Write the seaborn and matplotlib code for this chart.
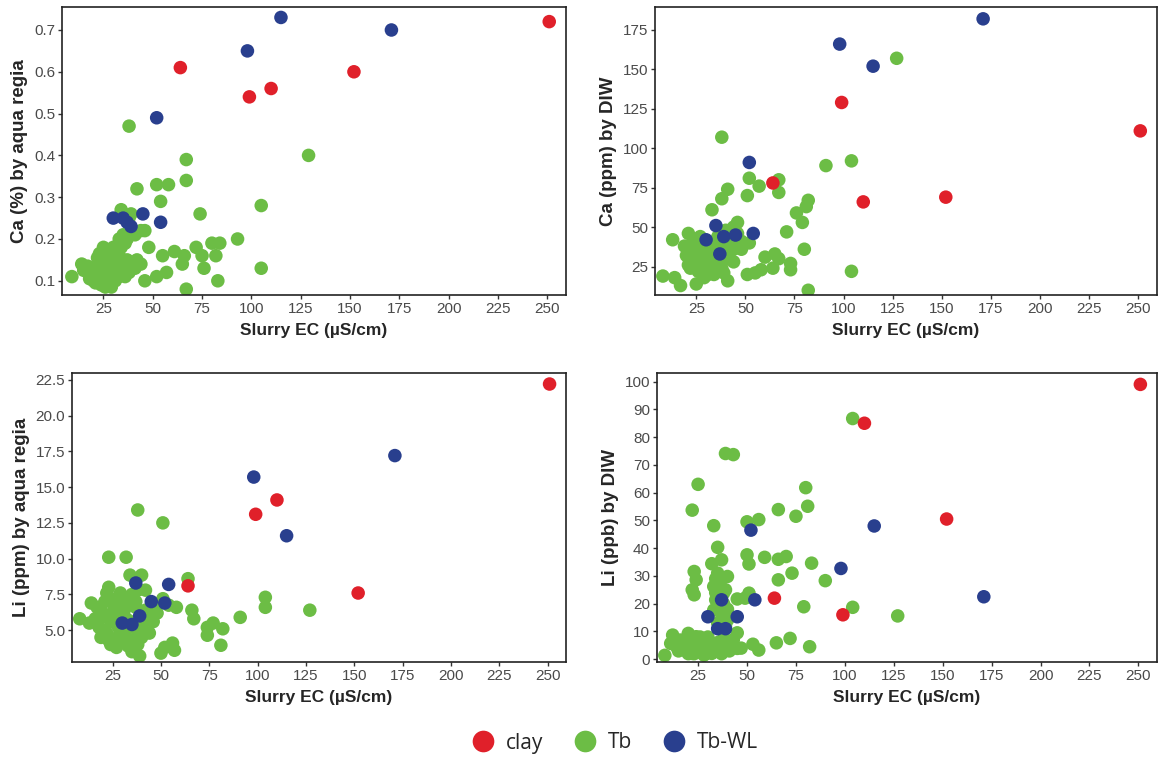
import matplotlib
matplotlib.use("Agg")
import matplotlib.pyplot as plt
import numpy as np
import pandas as pd
import seaborn as sns

# sample groups
groups = ["clay", "Tb", "Tb-WL"]
colors = {"clay": "#e0202a", "Tb": "#6cbd45", "Tb-WL": "#293f8e"}

# slurry EC of clay and Tb-WL samples (same for all panels)
clay_ec = [64, 99, 110, 152, 251]
tbwl_ec = [30, 35, 37, 39, 45, 52, 54, 98, 115, 171]

# clay values
clay_ca_ar = [0.61, 0.54, 0.56, 0.60, 0.72]
clay_ca_diw = [78, 129, 66, 69, 111]
clay_li_ar = [8.1, 13.1, 14.1, 7.6, 22.2]
clay_li_diw = [22, 16, 85, 50.5, 99]

# Tb-WL values
tbwl_ca_ar = [0.25, 0.25, 0.24, 0.23, 0.26, 0.49, 0.24, 0.65, 0.73, 0.70]
tbwl_ca_diw = [42, 51, 33, 44, 45, 91, 46, 166, 152, 182]
tbwl_li_ar = [5.5, 5.4, 8.3, 6.0, 7.0, 6.9, 8.2, 15.7, 11.6, 17.2]
tbwl_li_diw = [15.3, 11, 21.4, 11, 15.3, 46.5, 21.4, 32.7, 48, 22.5]

# Tb samples, read separately for each panel
tb_ca_ar_ec = [38, 67, 67, 52, 58, 54, 42, 129, 105, 105, 74, 93, 80, 84, 82, 76,
               83, 67, 72, 75, 66, 65, 61, 57, 52, 46, 55, 48, 46, 40, 37, 35,
               34, 39, 34, 33, 44, 41, 9, 14, 17, 19, 23, 25, 27, 25, 29, 21,
               31, 33, 36, 38, 25, 24, 28, 18,
               20, 22, 24, 26, 27, 28, 30, 31, 22, 25, 26, 29, 32, 35, 37, 36,
               40, 42, 30, 33, 36, 41, 44, 38, 15, 18, 23, 27]
tb_ca_ar = [0.47, 0.39, 0.34, 0.33, 0.33, 0.29, 0.32, 0.40, 0.28, 0.13, 0.26, 0.20,
            0.19, 0.19, 0.16, 0.13, 0.10, 0.08, 0.18, 0.16, 0.16, 0.14, 0.17, 0.12,
            0.11, 0.10, 0.16, 0.18, 0.22, 0.22, 0.20, 0.21, 0.27, 0.26, 0.18, 0.16,
            0.14, 0.13, 0.11, 0.14, 0.135, 0.11, 0.165, 0.15, 0.125, 0.10, 0.085,
            0.095, 0.135, 0.11, 0.14, 0.12, 0.18, 0.12, 0.105, 0.12,
            0.10, 0.13, 0.09, 0.11, 0.14, 0.16, 0.12, 0.10, 0.155, 0.17, 0.085,
            0.095, 0.15, 0.13, 0.15, 0.11, 0.14, 0.15, 0.18, 0.20, 0.19, 0.21,
            0.22, 0.25, 0.125, 0.105, 0.12, 0.105]

tb_ca_diw_ec = [38, 91, 104, 127, 104, 82, 52, 57, 67, 67, 51, 41, 38, 33, 71, 76,
                82, 81, 79, 80, 46, 60, 65, 67, 64, 73, 73, 51, 55, 58, 44, 41,
                8, 14, 17, 13, 21, 19, 23, 24, 27, 30, 33, 37, 35, 25, 22, 31,
                34, 38, 42, 46, 48, 52, 28, 34, 21, 25,
                22, 24, 26, 28, 30, 32, 34, 36, 38, 40, 42, 44, 26, 29, 31, 24,
                36, 40, 44, 46, 48, 30, 27, 33, 39, 20, 22]
tb_ca_diw = [107, 89, 92, 157, 22, 10, 81, 76, 80, 72, 70, 74, 68, 61, 47, 59,
             67, 63, 53, 36, 53, 31, 33, 30, 24, 27, 23, 20, 21, 23, 28, 16,
             19, 18, 13, 42, 46, 38, 33, 27, 29, 25, 21, 25, 27, 14, 31, 33,
             38, 39, 40, 38, 41, 40, 22, 20, 26, 30,
             38, 42, 36, 30, 24, 30, 34, 28, 24, 30, 34, 36, 22, 18, 20, 26,
             44, 48, 50, 46, 36, 37, 44, 26, 21, 32, 24]

tb_li_ar_ec = [38, 51, 23, 32, 127, 104, 104, 91, 64, 66, 67, 74, 77, 82, 74, 81,
               52, 56, 50, 57, 39, 35, 14, 8, 23, 22, 34, 40, 38, 42, 51, 58,
               54, 48, 44, 13, 19, 21, 25, 27, 29, 31, 33, 23, 27, 19, 25, 30,
               37, 38, 40, 35, 42, 17, 23, 29,
               18, 20, 22, 24, 25, 26, 28, 30, 31, 32, 34, 36, 38, 40, 42, 44,
               46, 48, 35, 37, 24, 28, 21, 33, 16, 27]
tb_li_ar = [13.4, 12.5, 10.1, 10.1, 6.4, 7.3, 6.6, 5.9, 8.6, 6.4, 5.8, 5.2, 5.5,
            5.1, 4.65, 3.95, 3.8, 4.1, 3.4, 3.6, 3.2, 3.5, 6.9, 5.8, 8.0, 7.6,
            8.85, 8.85, 7.8, 7.8, 7.2, 6.6, 6.75, 6.2, 5.7, 5.5, 5.9, 5.0, 6.2,
            5.5, 4.8, 6.4, 5.7, 4.3, 3.8, 4.5, 6.9, 7.1, 6.6, 5.0, 4.5, 4.3, 5.9,
            6.6, 7.3, 7.6,
            5.2, 6.2, 4.8, 5.6, 4.4, 6.6, 5.2, 4.6, 6.0, 5.0, 6.8, 5.4, 4.0, 5.2,
            6.4, 4.8, 5.6, 6.8, 7.5, 7.0, 4.0, 6.8, 7.0, 3.9, 5.8, 4.2]

tb_li_diw_ec = [104, 127, 104, 79, 90, 83, 73, 66, 66, 70, 59, 50, 51, 80, 81, 75,
                66, 56, 50, 39, 43, 25, 22, 33, 35, 37, 32, 40, 23, 24, 22, 23,
                45, 45, 49, 51, 72, 65, 82, 53, 56, 8, 39, 36, 33, 34, 38, 33,
                37, 40, 38, 35, 12, 20, 14, 18, 23, 26, 30, 34, 38, 42, 45, 22,
                28, 16, 32, 40, 24, 11,
                34, 36, 38, 35, 37, 39, 34, 36, 38, 40, 35,
                15, 17, 19, 21, 23, 25, 27, 29, 31, 33, 35, 37, 39, 41, 43, 47,
                26, 30, 20, 24]
tb_li_diw = [86.7, 15.6, 18.7, 18.9, 28.3, 34.6, 31, 28.6, 36, 37, 36.7, 37.6,
             34.3, 61.8, 55.1, 51.5, 53.9, 50.3, 49.5, 74.1, 73.7, 63, 53.7, 48.1,
             40.3, 35.8, 34.4, 29.8, 31.6, 28.6, 25, 23.2, 21.7, 9.5, 22, 23.8,
             7.5, 5.9, 4.5, 5.4, 3.3, 1.4, 25, 27.4, 26.2, 21.4, 19, 17.7, 16.5,
             14.1, 23.8, 31, 8.7, 9.3, 4.5, 3.3, 5.7, 3.3, 6.3, 4.5, 7.5, 5.7,
             3.9, 2.1, 1.5, 6.9, 2.1, 3.3, 8.1, 5.7,
             24, 22, 20, 18, 14, 12, 29, 27, 16, 18, 13,
             3, 5, 7, 4, 2, 6, 4, 2, 5, 3, 6, 2, 5, 3, 7, 4,
             8, 8, 2, 3.5]

# panel labels and ticks
panel_ylabels = ["Ca (%) by aqua regia", "Ca (ppm) by DIW",
                 "Li (ppm) by aqua regia", "Li (ppb) by DIW"]
x_ticks = [25, 50, 75, 100, 125, 150, 175, 200, 225, 250]
y_ticks = [
    [0.1, 0.2, 0.3, 0.4, 0.5, 0.6, 0.7],
    [25, 50, 75, 100, 125, 150, 175],
    [5.0, 7.5, 10.0, 12.5, 15.0, 17.5, 20.0, 22.5],
    [0, 10, 20, 30, 40, 50, 60, 70, 80, 90, 100],
]
y_limits = [(0.066, 0.755), (7, 189.5), (2.78, 22.97), (-1, 103.1)]
x_limits = (4, 259.5)


def make_frame(tb_ec, tb_y, tbwl_y, clay_y):
    # Tb first so that Tb-WL and clay are drawn on top
    df = pd.concat([
        pd.DataFrame({"ec": tb_ec, "val": tb_y, "group": "Tb"}),
        pd.DataFrame({"ec": tbwl_ec, "val": tbwl_y, "group": "Tb-WL"}),
        pd.DataFrame({"ec": clay_ec, "val": clay_y, "group": "clay"}),
    ], ignore_index=True)
    return df


frames = [
    make_frame(tb_ca_ar_ec, tb_ca_ar, tbwl_ca_ar, clay_ca_ar),
    make_frame(tb_ca_diw_ec, tb_ca_diw, tbwl_ca_diw, clay_ca_diw),
    make_frame(tb_li_ar_ec, tb_li_ar, tbwl_li_ar, clay_li_ar),
    make_frame(tb_li_diw_ec, tb_li_diw, tbwl_li_diw, clay_li_diw),
]

sns.set_style("white")
plt.rcParams["font.family"] = ["Liberation Sans", "DejaVu Sans"]

fig = plt.figure(figsize=(11.63, 7.57), dpi=100)
W, H = 1163, 757
# axes boxes in pixels: left, top, right, bottom
boxes = [(62, 7, 566, 295), (655, 7, 1157, 295),
         (72, 373, 566, 662), (657, 373, 1157, 662)]

for i, (df, box) in enumerate(zip(frames, boxes)):
    l, t, r, b = box
    ax = fig.add_axes([l / W, 1 - b / H, (r - l) / W, (b - t) / H])
    sns.scatterplot(data=df, x="ec", y="val", hue="group", hue_order=groups,
                    palette=colors, s=95, linewidth=0, alpha=1, ax=ax,
                    legend=(i == 0))
    ax.set_xlim(*x_limits)
    ax.set_ylim(*y_limits[i])
    ax.set_xticks(x_ticks)
    ax.set_yticks(y_ticks[i])
    if i in (0, 2):
        ax.set_yticklabels([f"{v:.1f}" for v in y_ticks[i]])
    ax.set_xlabel("Slurry EC (µS/cm)", fontsize=12.5, fontweight="bold",
                  labelpad=5)
    ax.set_ylabel(panel_ylabels[i], fontsize=13.5, fontweight="bold",
                  labelpad=4)
    ax.tick_params(axis="both", which="major", labelsize=11,
                   labelcolor="#4a4a4a", color="#333333", length=3, width=1,
                   direction="out", bottom=True, left=True, pad=2)
    for sp in ax.spines.values():
        sp.set_visible(True)
        sp.set_color("#222222")
        sp.set_linewidth(1.2)
    if i == 0:
        handles, labels = ax.get_legend_handles_labels()
        ax.get_legend().remove()

fig.legend(handles, labels, loc="center", bbox_to_anchor=(610 / W, 1 - 743 / H),
           ncol=3, frameon=False, markerscale=1.6, handletextpad=0.1,
           columnspacing=1.0, prop={"family": ["Open Sans", "DejaVu Sans"],
                                    "size": 15})

fig.savefig("out.png", dpi=100)
